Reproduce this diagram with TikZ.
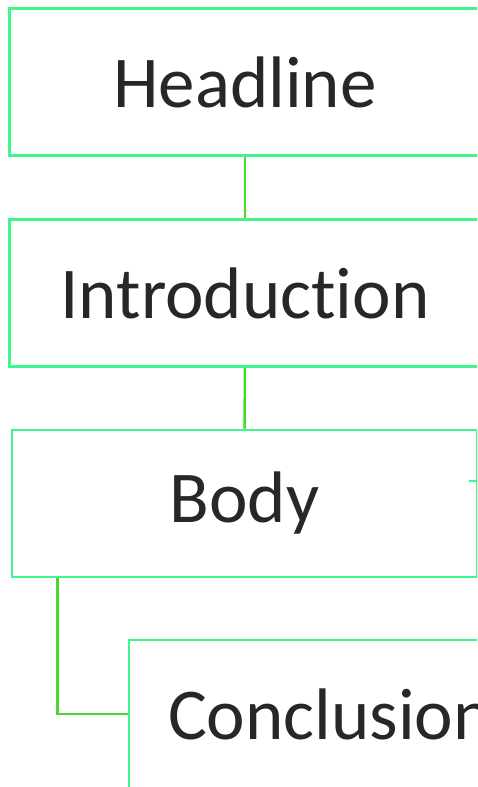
\documentclass[tikz,border=0pt]{standalone}
\usepackage{fontspec}
\setmainfont{Carlito}[RawFeature={-liga;-dlig;-clig}]
\definecolor{bordergreen}{RGB}{62,246,140}
\definecolor{conngreen}{RGB}{72,216,42}
\definecolor{textgray}{RGB}{38,40,38}
\begin{document}
\begin{tikzpicture}[x=1pt,y=-1pt,
  box/.style={draw=bordergreen, line width=2.7pt, fill=white, minimum width=471pt,
    minimum height=147pt, inner sep=0pt, text=textgray,
    font=\fontsize{73}{80}\selectfont},
  conn/.style={draw=conngreen, line width=2.5pt},
  stub/.style={draw=bordergreen, line width=2.5pt}]
\useasboundingbox (0,0) rectangle (477,787);
\clip (0,0) rectangle (477,787);
\fill[white] (0,0) rectangle (477,787);
\node[box] (headline) at (245,82) {Headline};
\node[box] (intro) at (245,293) {Introduction};
\node[box, minimum width=465pt] (body) at (244.5,503.5) {Body};
\node[box, minimum width=465pt, minimum height=152pt, inner xsep=39pt, text width=387pt, text depth=4pt, align=left] (concl) at (361.5,716) {Conclusion};
\draw[conn] (headline.south) -- (intro.north);
\draw[conn] (intro.south) -- (body.north);
\draw[conn] ([xshift=47pt]body.south west) |- ([yshift=2pt]concl.west);
\coordinate (stubend) at (469,481);
\draw[stub] (stubend) -- (stubend -| body.east);
\end{tikzpicture}
\end{document}
